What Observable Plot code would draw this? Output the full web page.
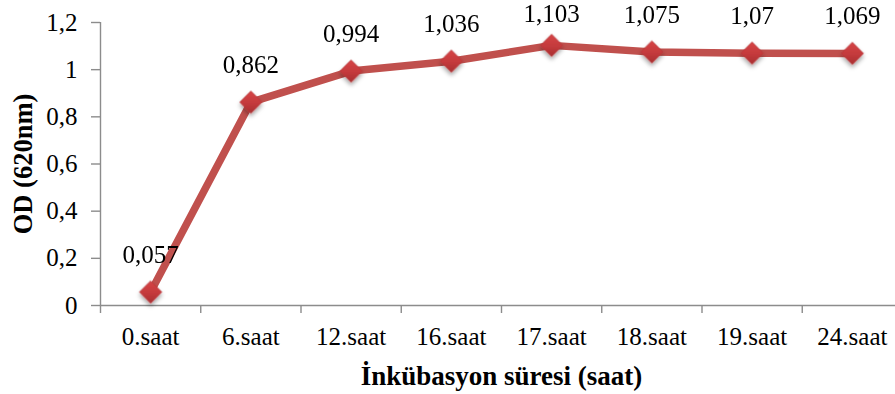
<!DOCTYPE html>
<html>
<head>
<meta charset="utf-8">
<script src="https://cdn.jsdelivr.net/npm/d3@7"></script>
<script src="https://cdn.jsdelivr.net/npm/@observablehq/plot@0.6"></script>
<style>
  html, body { margin: 0; padding: 0; background: #fff; overflow: hidden; }
  #chart { width: 895px; height: 394px; overflow: hidden; }
</style>
</head>
<body>
<div id="chart"></div>
<script>
// Incubation time points and measured optical density
const categories = ["0.saat", "6.saat", "12.saat", "16.saat", "17.saat", "18.saat", "19.saat", "24.saat"];
const odValues = [0.057, 0.862, 0.994, 1.036, 1.103, 1.075, 1.07, 1.069];
const yTicks = [0, 0.2, 0.4, 0.6, 0.8, 1, 1.2];
const xTitle = "İnkübasyon süresi (saat)";
const yTitle = "OD (620nm)";

// Each category sits in the middle of its unit slot on a linear x axis
const data = categories.map((c, i) => ({pos: i + 0.5, cat: c, od: odValues[i]}));
const slotCenters = data.map(d => d.pos);
const slotEdges = d3.range(categories.length + 1);
const comma = v => String(v).replace(".", ",");

const axisGrey = "#8c8c8c";
const lineRed = "#C0504D";

// Gradient and shadow used by the diamond markers
const defs = () => {
  const g = d3.create("svg:defs");
  const grad = g.append("linearGradient")
    .attr("id", "diamondFill").attr("x1", 0).attr("y1", 0).attr("x2", 0).attr("y2", 1);
  grad.append("stop").attr("offset", "0%").attr("stop-color", "#d64446");
  grad.append("stop").attr("offset", "55%").attr("stop-color", "#c43a3c");
  grad.append("stop").attr("offset", "100%").attr("stop-color", "#a82f31");
  const f = g.append("filter").attr("id", "softShadow")
    .attr("x", "-50%").attr("y", "-50%").attr("width", "200%").attr("height", "200%");
  f.append("feDropShadow").attr("dx", 0).attr("dy", 3).attr("stdDeviation", 2)
    .attr("flood-color", "#000").attr("flood-opacity", 0.35);
  return g.node();
};

const chart = Plot.plot({
  width: 895,
  height: 394,
  marginLeft: 100,
  marginRight: -7,
  marginTop: 22,
  marginBottom: 89,
  style: {fontFamily: "'Liberation Serif', 'Times New Roman', serif", fontSize: "25px", color: "#000", background: "#fff"},
  x: {domain: [0, categories.length], label: null},
  y: {domain: [0, 1.2], label: null},
  marks: [
    defs,
    // axis lines
    Plot.ruleY([0], {stroke: axisGrey, strokeWidth: 1.4}),
    Plot.ruleX([0], {stroke: axisGrey, strokeWidth: 1.4}),
    // y ticks and labels
    Plot.axisY({ticks: yTicks, tickSize: 9, tickFormat: () => "", stroke: axisGrey, strokeWidth: 1.4, label: null}),
    Plot.axisY({ticks: yTicks, tickSize: 0, tickPadding: 23, tickFormat: comma, fill: "#000", fontSize: 25, label: null}),
    // x ticks at slot edges, labels at slot centers
    Plot.axisX({ticks: slotEdges, tickSize: 8, tickFormat: () => "", stroke: axisGrey, strokeWidth: 1.4, label: null}),
    Plot.axisX({ticks: slotCenters, tickSize: 0, tickPadding: 22, tickFormat: v => categories[Math.floor(v)], fill: "#000", fontSize: 25, label: null}),
    // axis titles
    Plot.text([xTitle], {frameAnchor: "bottom", textAnchor: "middle", lineAnchor: "middle", dy: 71, fontWeight: "bold", fontSize: 27, fill: "#000"}),
    Plot.text([yTitle], {frameAnchor: "left", textAnchor: "middle", lineAnchor: "middle", dx: -77, rotate: -90, fontWeight: "bold", fontSize: 26.5, fill: "#000"}),
    // series
    Plot.line(data, {x: "pos", y: "od", stroke: lineRed, strokeWidth: 7.5, strokeLinejoin: "round", strokeLinecap: "round"}),
    Plot.dot(data, {x: "pos", y: "od", symbol: "diamond2", r: 10, fill: "url(#diamondFill)", stroke: "#b83638", strokeWidth: 0.8}),
    // value labels
    Plot.text(data, {x: "pos", y: "od", text: d => comma(d.od), dy: -37, fontSize: 25, fill: "#000"})
  ]
});

document.getElementById("chart").appendChild(chart);

// soft shadow under the markers
d3.select(chart).selectAll("g[aria-label='dot']").attr("filter", "url(#softShadow)");

// keep value labels from running off the top edge
const svgTop = chart.getBoundingClientRect().top;
d3.select(chart).selectAll("g[aria-label='text'] text").each(function () {
  const top = this.getBoundingClientRect().top - svgTop;
  if (top < 0) {
    const t = d3.select(this).attr("transform") || "";
    d3.select(this).attr("transform", `translate(0,${(-top).toFixed(1)}) ` + t);
  }
});
</script>
</body>
</html>
